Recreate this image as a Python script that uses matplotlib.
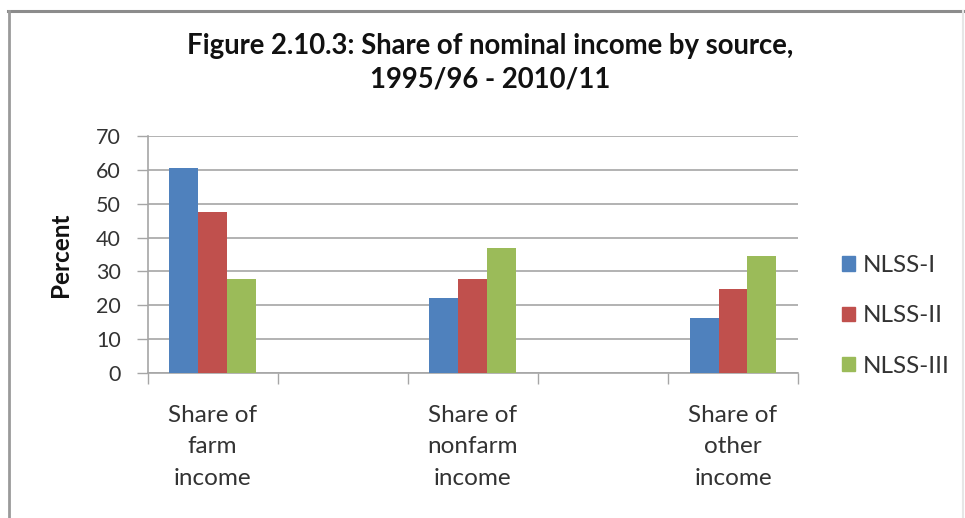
import matplotlib
matplotlib.use("Agg")
import matplotlib.pyplot as plt
import numpy as np
from matplotlib.patches import Patch
from matplotlib.lines import Line2D

categories = ["Share of\nfarm\nincome", "Share of\nnonfarm\nincome", "Share of\nother\nincome"]
series_names = ["NLSS-I", "NLSS-II", "NLSS-III"]
nlss1 = [60.5, 22.1, 16.2]
nlss2 = [47.7, 27.9, 24.9]
nlss3 = [27.9, 36.9, 34.7]
colors = ["#4F81BD", "#C0504D", "#9BBB59"]
yticks = [0, 10, 20, 30, 40, 50, 60, 70]
title = "Figure 2.10.3: Share of nominal income by source,\n1995/96 - 2010/11"

plt.rcParams['font.family'] = ['Lato', 'DejaVu Sans']

W, H = 965, 518
fig = plt.figure(figsize=(W / 100, H / 100), dpi=100)
fig.patch.set_facecolor("white")

# outer chart frame
fig.add_artist(Line2D([8 / W, 963 / W], [1 - 10.5 / H, 1 - 10.5 / H], transform=fig.transFigure,
                      color="#8c8c8c", linewidth=2.2))
fig.add_artist(Line2D([8.5 / W, 8.5 / W], [0, 1 - 10.5 / H], transform=fig.transFigure,
                      color="#9a9a9a", linewidth=2.0))
fig.add_artist(Line2D([962.5 / W, 962.5 / W], [0, 1 - 10.5 / H], transform=fig.transFigure,
                      color="#e6e6e6", linewidth=1.5))

ax = fig.add_axes([147.5 / W, 1 - 373 / H, (798 - 147.5) / W, (373 - 136) / H])

pos = np.arange(len(categories)) * 2.0
w = 0.222
for i, (vals, name, c) in enumerate(zip([nlss1, nlss2, nlss3], series_names, colors)):
    ax.bar(pos + (i - 1) * w, vals, width=w, color=c, label=name, zorder=3)

ax.set_xlim(-0.5, pos[-1] + 0.5)
ax.set_ylim(0, 70)
ax.set_yticks(yticks)
ax.set_yticklabels([str(t) for t in yticks], fontsize=15.5, color="#333333")
ax.yaxis.grid(True, color="#a6a6a6", linewidth=1.2, zorder=0)
ax.tick_params(axis='y', length=8, width=1, color="#a6a6a6", pad=11)

ax.set_xticks(pos)
ax.set_xticklabels(categories, fontsize=17.5, color="#333333", linespacing=1.62)
ax.set_xticks(np.arange(-0.5, pos[-1] + 1.0, 1.0), minor=True)
ax.tick_params(axis='x', which='major', length=0, pad=23)
ax.tick_params(axis='x', which='minor', length=8, width=1, color="#a6a6a6")

for s in ["top", "right"]:
    ax.spines[s].set_visible(False)
for s in ["left", "bottom"]:
    ax.spines[s].set_color("#a6a6a6")
    ax.spines[s].set_linewidth(1.2)

ax.set_ylabel("Percent", fontsize=17.5, fontweight="bold", color="#111111")
ax.yaxis.set_label_coords((72 - 147.5) / (798 - 147.5), 0.5)

fig.text(490 / W, 1 - 63 / H, title, ha="center", va="center", fontsize=19.8,
         fontweight="bold", color="#111111", linespacing=1.38)

handles = [Patch(facecolor=c, edgecolor=c) for c in colors]
fig.legend(handles, series_names, loc="center left",
           bbox_to_anchor=(842 / W, 1 - 316 / H), frameon=False, fontsize=17.5,
           handlelength=0.55, handleheight=0.55, handletextpad=0.3, labelspacing=1.2,
           borderpad=0, borderaxespad=0, labelcolor="#333333")

fig.savefig("out.png", dpi=100, facecolor="white")
